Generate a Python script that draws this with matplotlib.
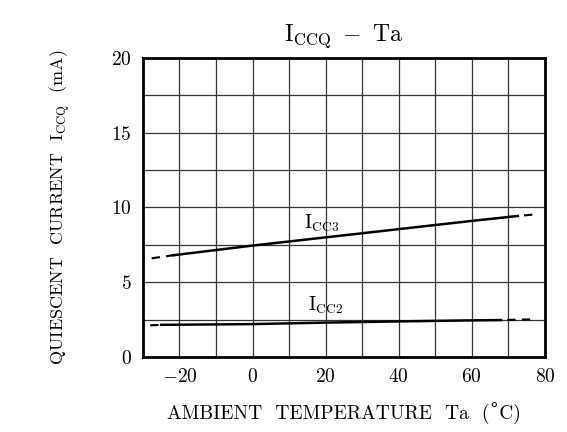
import matplotlib
matplotlib.use("Agg")
import matplotlib.pyplot as plt

plt.rcParams['font.family'] = ['cmr10', 'DejaVu Serif']
plt.rcParams['mathtext.fontset'] = 'cm'
plt.rcParams['axes.formatter.use_mathtext'] = True

# Icc3 curve: dashed ends, solid middle
icc3_x = [-27.6, -21.8, 0, 20, 40, 60, 72.6, 76.7]
icc3_y = [6.6, 6.8, 7.45, 8.0, 8.55, 9.1, 9.43, 9.52]
# Icc2 curve
icc2_x = [-28, -25, 0, 20, 40, 60, 68, 76.7]
icc2_y = [2.12, 2.15, 2.2, 2.3, 2.38, 2.45, 2.47, 2.52]

x_ticks = [-20, 0, 20, 40, 60, 80]
y_ticks = [0, 5, 10, 15, 20]

fig = plt.figure(figsize=(5.67, 4.32), dpi=100)
ax = fig.add_axes([0.252, 0.1736, 0.709, 0.6924])

dash = (0, (4, 3))
dash_r = (4, (4, 3))  # start with a gap after the solid part
# dashed tails and solid middle sections
ax.plot(icc3_x[:2], icc3_y[:2], color='black', lw=1.5, ls=dash)
ax.plot(icc3_x[1:-1], icc3_y[1:-1], color='black', lw=1.8)
ax.plot(icc3_x[-2:], icc3_y[-2:], color='black', lw=1.5, ls=dash_r)
ax.plot(icc2_x[:2], icc2_y[:2], color='black', lw=1.5, ls=dash)
ax.plot(icc2_x[1:-1], icc2_y[1:-1], color='black', lw=1.8)
ax.plot(icc2_x[-2:], icc2_y[-2:], color='black', lw=1.5, ls=dash_r)

ax.text(19, 8.95, r'$\mathrm{I_{CC3}}$', fontsize=14, ha='center', va='center')
ax.text(20, 3.45, r'$\mathrm{I_{CC2}}$', fontsize=14, ha='center', va='center')

ax.set_xlim(-30, 80)
ax.set_ylim(0, 20)
ax.set_xticks(x_ticks)
ax.set_yticks(y_ticks)
ax.set_xticks(range(-30, 81, 10), minor=True)
ax.set_yticks([i * 2.5 for i in range(9)], minor=True)
ax.grid(which='both', color='#333333', lw=0.9)
ax.tick_params(which='both', length=0, labelsize=14, pad=8)
for s in ax.spines.values():
    s.set_linewidth(2)

ax.set_title(r'$\mathrm{I_{CCQ}}\ -\ \mathrm{Ta}$', fontsize=17, pad=12)
ax.set_xlabel('AMBIENT  TEMPERATURE  Ta  (˚C)', fontsize=14, labelpad=12)
ax.set_ylabel(r'QUIESCENT  CURRENT  I$_{\mathrm{CCQ}}$  (mA)', fontsize=13, labelpad=28)

fig.savefig('out.png', dpi=100)
